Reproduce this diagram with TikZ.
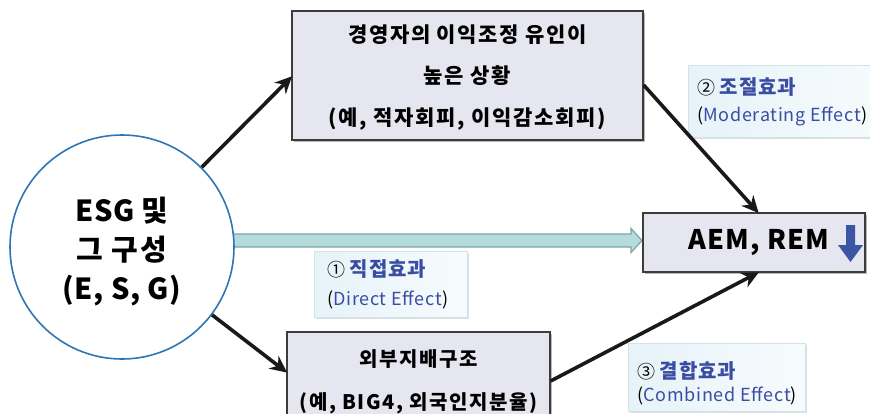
\documentclass[tikz,border=0pt]{standalone}
\usepackage{fontspec}
\setmainfont{Noto Sans CJK KR}
\newfontfamily\kbox{Noto Sans CJK KR}[LetterSpace=8]
\newfontfamily\kcirc{Noto Sans CJK KR}[LetterSpace=2]
\newfontfamily\klab{Noto Sans CJK KR}[LetterSpace=4]
\usetikzlibrary{shadows,calc,arrows.meta}
\definecolor{boxfill}{HTML}{E6E6F0}
\definecolor{boxline}{HTML}{3C3C3C}
\definecolor{circline}{HTML}{2E75B6}
\definecolor{labblue}{HTML}{3A4DA2}
\definecolor{labfillA}{HTML}{E6F3F8}
\definecolor{labfillB}{HTML}{F7FBFD}
\definecolor{lablineC}{HTML}{CFE3EA}
\definecolor{shaftfill}{HTML}{B5DCDC}
\definecolor{shaftline}{HTML}{7FA3A6}
\definecolor{downblue}{HTML}{3A55A6}
\tikzset{
  mainbox/.style={draw=boxline, line width=1.3pt, fill=boxfill, rectangle,
    drop shadow={shadow xshift=2pt, shadow yshift=-2pt, fill=black!45, opacity=0.6}, inner sep=0pt},
  boxtext/.style={font=\kbox\bfseries\fontsize{21}{41.5}\selectfont, align=center, inner sep=0pt},
  labbox/.style={draw=lablineC, line width=0.8pt, left color=labfillA, right color=labfillB, rectangle,
    drop shadow={shadow xshift=1.5pt, shadow yshift=-1.5pt, fill=black!25, opacity=0.5},
    inner sep=0pt, anchor=north west},
  labtext/.style={font=\klab\fontsize{18}{28}\selectfont, anchor=base west, inner sep=0pt},
  conn/.style={line width=3.6pt, draw=black!90, -{Stealth[length=17pt,width=16pt]}, shorten >=-1pt},
  blk/.style={fill=shaftfill, draw=shaftline, line width=1.2pt, line join=miter}
}
\newcommand{\lb}[1]{\textcolor{labblue}{#1}}
\newcommand{\lk}[1]{\textcolor{labblue}{\bfseries\fontsize{20}{28}\selectfont #1}}
\begin{document}
\begin{tikzpicture}[x=1pt,y=-1pt]
\useasboundingbox (0,0) rectangle (870,413);
% block arrow (direct effect)
\coordinate (bs) at (228,240.5);
\coordinate (bt) at (642,240.5);
\draw[blk] ($(bs)+(0,-6.5)$) -- ($(bt)+(-11,-6.5)$) -- ($(bt)+(-11,-12)$) -- (bt)
  -- ($(bt)+(-11,12)$) -- ($(bt)+(-11,6.5)$) -- ($(bs)+(0,6.5)$) -- cycle;
% circle
\node[circle, draw=circline, line width=1.6pt, fill=white, minimum size=224pt, inner sep=0pt] (esg) at (122,247) {};
\node[font=\kcirc\bfseries\fontsize{29}{39}\selectfont, align=center, inner sep=0pt] (esgt) at (122,251.5)
  {ESG 및\\{\kbox 그 구성}\\(E, S, G)};
% boxes
\node[mainbox, minimum width=351pt, minimum height=129pt] (top) at (467.5,75.5) {};
\node[boxtext] (topt) at (467.5,77.5)
  {경영자의 이익조정 유인이\\높은 상황\\(예, 적자회피, 이익감소회피)};
\node[mainbox, minimum width=222pt, minimum height=59pt, font=\klab\bfseries\fontsize{27}{30}\selectfont] (aem) at (754,242.5)
  {\hspace*{10pt}AEM, REM};
\node[mainbox, minimum width=263pt, minimum height=96pt] (gov) at (418.5,380) {};
\node[boxtext, font=\kbox\bfseries\fontsize{20}{43}\selectfont] (govt) at (418.5,381.5)
  {외부지배구조\\(예, BIG4, 외국인지분율)};
% down arrow
\fill[downblue] (846,225) -- (855,225) -- (855,245) -- (863,245) -- (850.5,262) -- (838,245) -- (846,245) -- cycle;
% labels
\node[labbox, minimum width=153pt, minimum height=66pt] (l1) at (314,251) {};
\node[labtext] (l1a) at (327,276) {① \lk{직접효과}};
\node[labtext] (l1b) at (327,305) {(\lb{Direct Effect})};
\node[labbox, minimum width=200pt, minimum height=72pt] (l2) at (688,65) {};
\node[labtext] (l2a) at (697,94) {② \lk{조절효과}};
\node[labtext] (l2b) at (697,121) {(\lb{Moderating Effect})};
\node[labbox, minimum width=177pt, minimum height=68pt] (l3) at (628,343) {};
\node[labtext] (l3a) at (637,378) {③ \lk{결합효과}};
\node[labtext] (l3b) at (637,401) {(\lb{Combined Effect})};
% connectors
\draw[conn] (esg.45) -- (top.west |- 0,77);
\draw[conn] (esg.-37) -- (gov.west |- 0,372);
\draw[conn] (top.east |- 0,85) -- (aem.north -| 758,0);
\draw[conn] (gov.east |- 0,381) -- (aem.south -| 758,0);
\end{tikzpicture}
\end{document}
